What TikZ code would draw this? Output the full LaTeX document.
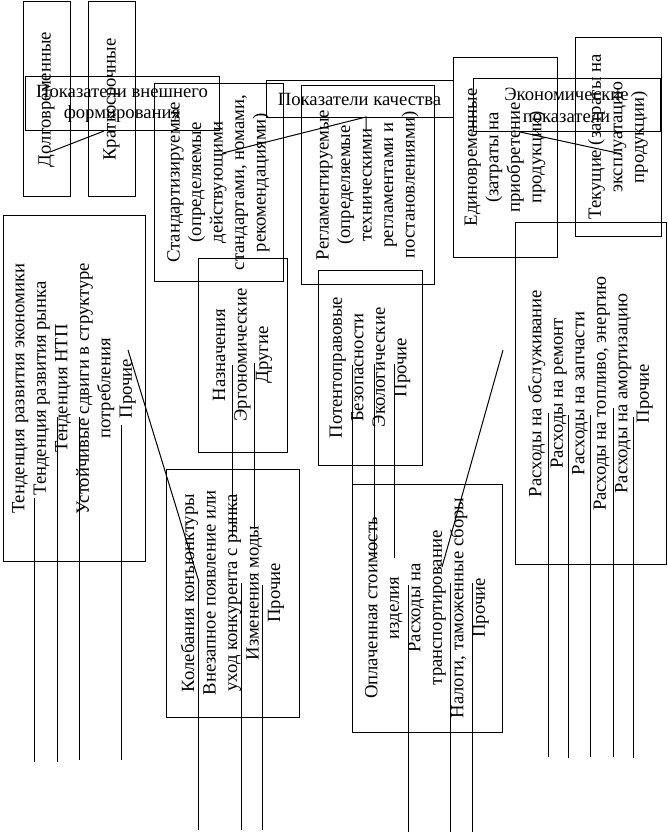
\documentclass[tikz,border=0pt]{standalone}
\usepackage{fontspec}
\setmainfont{Liberation Serif}
\begin{document}
\begin{tikzpicture}[x=1pt,y=-1pt,
  box/.style={draw, line width=1pt, inner sep=0pt, align=center,
    font=\fontsize{18.67}{21.5}\selectfont},
  vbox/.style={box, rotate=90},
  wire/.style={line width=1pt}]
\useasboundingbox (0,0) rectangle (667,834);
% top-left group
\node[vbox, minimum width=195, minimum height=47] (dolg) at (46.5,99.5) {Долговременные};
\node[vbox, minimum width=195, minimum height=47] (krat) at (111.5,99.5) {Краткосрочные};
\node[box, minimum width=194, minimum height=54] (vnesh) at (122,104) {Показатели внешнего\\формирования};
% quality
\node[vbox, minimum width=197, minimum height=129] (stand) at (218.5,182.5)
  {Стандартизируемые\\(определяемые\\действующими\\стандартами, номами,\\рекомендациями)};
\node[box, minimum width=187, minimum height=37] (kach) at (359.5,99.5) {Показатели качества};
\node[vbox, minimum width=198, minimum height=133] (regl) at (367.5,185)
  {Регламентируемые\\(определяемые\\техническими\\регламентами и\\постановлениями)};
% economic
\node[vbox, minimum width=199, minimum height=104] (edin) at (505,157.5)
  {Единовременные\\(затраты на\\приобретение\\продукции)};
\node[box, minimum width=187, minimum height=53] (ekon) at (566.5,105.5) {Экономические\\показатели};
\node[vbox, minimum width=198, minimum height=86] (tek) at (618,137)
  {Текущие (затраты на\\эксплуатацию\\продукции)};
\node[vbox, minimum width=341, minimum height=151] (rash) at (590.5,393.5)
  {Расходы на обслуживание\\Расходы на ремонт\\Расходы на запчасти\\Расходы на топливо, энергию\\Расходы на амортизацию\\Прочие};
% lower groups
\node[vbox, minimum width=345, minimum height=142] (trend) at (74,388.5)
  {Тенденция развития экономики\\Тенденция развития рынка\\Тенденция НТП\\Устойчивые сдвиги в структуре\\потребления\\Прочие};
\node[vbox, minimum width=194, minimum height=89] (naz) at (242.5,355)
  {Назначения\\Эргономические\\Другие};
\node[vbox, minimum width=195, minimum height=104] (pot) at (370,367.5)
  {Потентоправовые\\Безопасности\\Экологические\\Прочие};
\node[vbox, minimum width=248, minimum height=133] (kol) at (232.5,593)
  {Колебания конъюнктуры\\Внезапное появление или\\уход конкурента с рынка\\Изменения моды\\Прочие};
\node[vbox, minimum width=248, minimum height=150] (opl) at (427,608)
  {Оплаченная стоимость\\изделия\\Расходы на\\транспортирование\\Налоги, таможенные сборы\\Прочие};
% slanted connectors
\coordinate (d1) at (50,152);   \coordinate (d2) at (104,131);
\coordinate (s1) at (223,153);  \coordinate (s2) at (366,117); \coordinate (s3) at (366,131);
\coordinate (e1) at (520,132);  \coordinate (e2) at (622,154);
\coordinate (t1) at (128,350);  \coordinate (t2) at (199,582);
\coordinate (o1) at (503,350);  \coordinate (o2) at (442,567);
\draw[wire] (d1) -- (d2);
\draw[wire] (s1) -- (s2) -- (s3);
\draw[wire] (e1) -- (e2);
\draw[wire] (t1) -- (t2);
\draw[wire] (o1) -- (o2);
% vertical connectors
\foreach \n/\x/\a/\b in {
  va/34/498/762, vb/57/417/762, vc/79/417/760, vd/121/425/760,
  ve/232/365/537, vf/254/363/529,
  vg/352/365/484, vh/374/364/557, vi/394/364/558,
  vj/408/585/832, vk/450/583/832, vl/472/583/832,
  vm/198/582/830, vn/241/583/830, vo/262/585/830,
  vp/548/413/757, vq/568/415/758, vr/590/415/757, vs/613/408/757, vt/633/417/758}
{
  \coordinate (\n a) at (\x,\a);
  \coordinate (\n b) at (\x,\b);
  \draw[wire] (\n a) -- (\n b);
}
\end{tikzpicture}
\end{document}
